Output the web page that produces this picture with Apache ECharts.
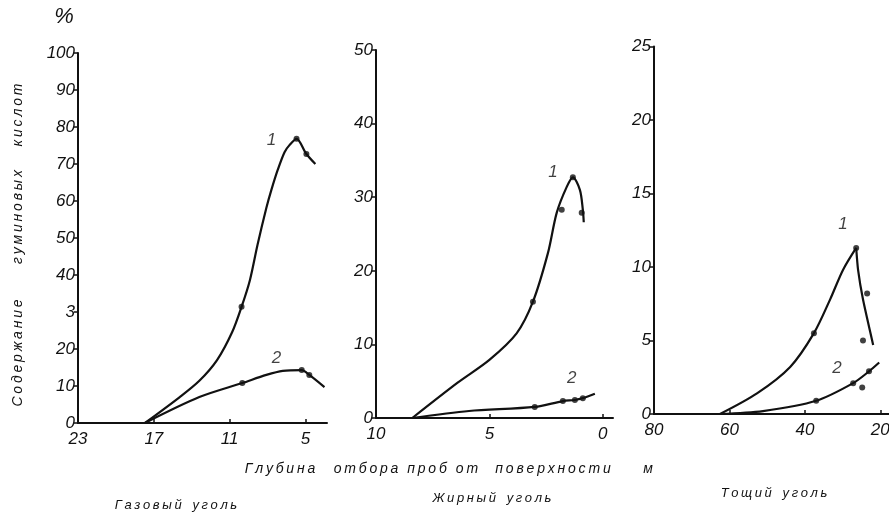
<!DOCTYPE html>
<html>
<head>
<meta charset="utf-8">
<script src="https://cdn.jsdelivr.net/npm/echarts@6/dist/echarts.min.js"></script>
<style>
  html, body { margin: 0; background: #fff; }
  #chart { width: 889px; height: 515px; }
</style>
</head>
<body>
<div id="chart"></div>
<script>
// Газовый уголь (глубина, м -> %)
var gasTicks = [23, 17, 11, 5];
var gasCurve1 = [[17.7, 0], [14.95, 7.0], [13.4, 11.4], [12.0, 17.0], [10.8, 24.6], [10.06, 31.4], [9.4, 38.6], [8.8, 48.1], [8.1, 58.1], [7.7, 63], [7.2, 68.4], [6.66, 73.2], [6.27, 75.1], [5.71, 76.8], [4.93, 72.7], [4.22, 70]];
var gasCurve2 = [[17.7, 0], [13.4, 7], [10, 10.8], [8.1, 13], [6.8, 14.1], [5.3, 14.3], [4.7, 13], [3.5, 9.7]];
var gasDots = [[10.06, 31.4], [5.71, 76.8], [4.93, 72.7], [10, 10.8], [5.3, 14.3], [4.7, 13]];
var gasLabels = [[7.7, 76.5, "1"], [7.3, 17.6, "2"]];

// Жирный уголь
var fatTicks = [10, 5, 0];
var fatCurve1 = [[8.4, 0], [6.4, 4.8], [5, 7.9], [3.8, 11.5], [3.08, 15.8], [2.42, 22.4], [2.03, 27.9], [1.59, 31.4], [1.32, 32.7], [1.01, 31], [0.88, 28.3], [0.84, 26.6]];
var fatCurve2 = [[8.4, 0], [5.9, 0.95], [3, 1.5], [1.76, 2.3], [1.23, 2.45], [0.88, 2.7], [0.35, 3.3]];
var fatDots = [[3.08, 15.8], [1.81, 28.3], [1.32, 32.7], [0.93, 27.9], [3, 1.5], [1.76, 2.3], [1.23, 2.45], [0.88, 2.7]];
var fatLabels = [[2.2, 33.4, "1"], [1.37, 5.4, "2"]];

// Тощий уголь
var leanTicks = [80, 60, 40, 20];
var leanCurve1Rise = [[62.5, 0], [52.7, 1.4], [43.9, 3.2], [37.6, 5.5], [33.3, 7.8], [29.9, 9.8], [26.4, 11.3]];
var leanCurve1Fall = [[26.4, 11.3], [25.9, 9.8], [24.6, 7.8], [21.9, 4.7]];
var leanCurve2 = [[62.5, 0], [51.1, 0.2], [37, 0.9], [27.2, 2.1], [23, 2.9], [20.3, 3.5]];
var leanDots = [[37.6, 5.5], [26.4, 11.3], [23.5, 8.2], [24.6, 5.0], [37, 0.9], [27.2, 2.1], [23, 2.9], [24.8, 1.8]];
var leanLabels = [[29.9, 12.9, "1"], [31.5, 3.1, "2"]];

var INK = "#111";
var FONT = "Liberation Sans";

function spaced(s) {
  return s.split("").join("\u2009");
}

function xAxisOf(idx, min, max, ticks) {
  return {
    gridIndex: idx, type: "value", inverse: true, min: min, max: max,
    axisLine: { onZero: false, lineStyle: { color: INK, width: 2 } },
    axisTick: { customValues: ticks, length: 4, inside: true, lineStyle: { color: INK, width: 1.5 } },
    axisLabel: { customValues: ticks, color: INK, fontSize: 17, fontStyle: "italic", fontFamily: FONT, margin: 8 },
    splitLine: { show: false }
  };
}

function yAxisOf(idx, max, interval, fmt) {
  return {
    gridIndex: idx, type: "value", position: "left", min: 0, max: max, interval: interval,
    axisLine: { show: true, onZero: false, lineStyle: { color: INK, width: 2 } },
    axisTick: { show: true, length: 4, lineStyle: { color: INK, width: 1.5 } },
    axisLabel: { color: INK, fontSize: 17, fontStyle: "italic", fontFamily: FONT, margin: 3, formatter: fmt },
    splitLine: { show: false }
  };
}

function curve(idx, data, smooth) {
  return {
    type: "line", xAxisIndex: idx, yAxisIndex: idx, data: data, smooth: smooth == null ? 0.3 : smooth,
    showSymbol: false, lineStyle: { color: INK, width: 2.2 }, z: 3
  };
}

function dots(idx, data) {
  return {
    type: "scatter", xAxisIndex: idx, yAxisIndex: idx, data: data,
    symbolSize: 6, itemStyle: { color: INK }, z: 4
  };
}

function nums(idx, data) {
  return {
    type: "scatter", xAxisIndex: idx, yAxisIndex: idx, symbolSize: 2,
    itemStyle: { color: "rgba(0,0,0,0)" },
    data: data.map(function (d) { return { value: [d[0], d[1]], name: d[2] }; }),
    label: { show: true, position: "inside", formatter: "{b}", color: INK, fontSize: 17, fontStyle: "italic", fontFamily: FONT }
  };
}

function txt(x, y, s, size, rot) {
  return {
    type: "text", x: x, y: y, rotation: rot || 0,
    style: { text: s, fill: INK, font: "italic " + size + "px '" + FONT + "'", align: "center", verticalAlign: "middle" }
  };
}

var chart = echarts.init(document.getElementById("chart"));

var option = {
  backgroundColor: "#fff",
  animation: false,
  grid: [
    { left: 78, top: 53, width: 249, height: 370, outerBoundsMode: "none" },
    { left: 376, top: 50, width: 237, height: 368, outerBoundsMode: "none" },
    { left: 654, top: 46.5, width: 235, height: 367.5, outerBoundsMode: "none" }
  ],
  xAxis: [
    xAxisOf(0, 3.3, 23, gasTicks),
    xAxisOf(1, -0.45, 10, fatTicks),
    xAxisOf(2, 17.7, 80, leanTicks)
  ],
  yAxis: [
    yAxisOf(0, 100, 10, function (v) { return v === 30 ? "3" : v; }),
    yAxisOf(1, 50, 10),
    yAxisOf(2, 25, 5)
  ],
  series: [
    curve(0, gasCurve1), curve(0, gasCurve2), dots(0, gasDots), nums(0, gasLabels),
    curve(1, fatCurve1), curve(1, fatCurve2), dots(1, fatDots), nums(1, fatLabels),
    curve(2, leanCurve1Rise), curve(2, leanCurve1Fall, 0.2),
    curve(2, leanCurve2), dots(2, leanDots), nums(2, leanLabels)
  ],
  graphic: [
    txt(64, 17, "%", 22),
    txt(18, 353, spaced("Содержание"), 14, Math.PI / 2),
    txt(18, 217, spaced("гуминовых"), 14, Math.PI / 2),
    txt(18, 115, spaced("кислот"), 14, Math.PI / 2),
    txt(280, 469, spaced("Глубина"), 14),
    txt(366, 469, spaced("отбора"), 14),
    txt(427, 469, spaced("проб"), 14),
    txt(467, 469, spaced("от"), 14),
    txt(553, 469, spaced("поверхности"), 14),
    txt(648, 469, "м", 14),
    txt(176, 505, spaced("Газовый") + "   " + spaced("уголь"), 13),
    txt(492, 498, spaced("Жирный") + "   " + spaced("уголь"), 13),
    txt(774, 493, spaced("Тощий") + "   " + spaced("уголь"), 13)
  ]
};

chart.setOption(option);
</script>
</body>
</html>
